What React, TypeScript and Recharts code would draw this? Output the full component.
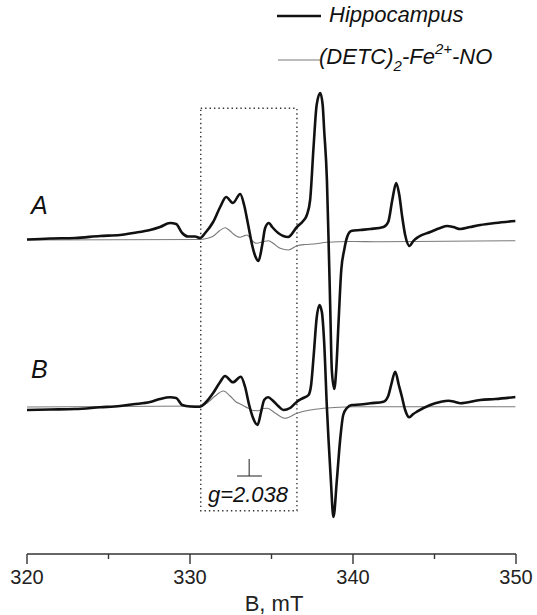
import { LineChart, Line, XAxis, YAxis, ReferenceArea, ReferenceLine } from 'recharts';

// ============================================
// Data (field B in mT, intensity in arbitrary units relative to each baseline)
// ============================================

const A_HIPPO_B = [
  320.0, 321.41, 322.95, 324.48, 325.71, 326.51, 327.55, 328.16, 328.78, 329.15, 329.52, 329.88,
  330.31, 330.62, 330.93, 331.42, 331.85, 332.22, 332.63, 333.08, 333.32, 333.57, 333.81, 334.0,
  334.2, 334.43, 334.61, 334.84, 335.04, 335.41, 336.02, 336.56, 336.94, 337.17, 337.37, 337.58,
  337.77, 337.99, 338.14, 338.23, 338.4, 338.5, 338.6, 338.7, 338.85, 338.97, 339.12, 339.28,
  339.46, 339.64, 339.89, 340.44, 341.06, 341.87, 342.16, 342.41, 342.65, 342.84, 343.02, 343.2,
  343.47, 343.7, 344.0, 344.74, 345.35, 345.78, 346.15, 346.58, 347.19, 347.81, 348.73, 349.96,
];
const A_HIPPO_I = [
  0.5, 1.5, 2, 4, 5, 7, 10, 13, 17, 16, 7, 3.5,
  3.5, 2, 7, 18, 33, 43, 37, 46, 35, 15, -5, -16,
  -21, -5, 12, 17, 13, 7, 3, 13, 19, 25, 40, 93,
  135, 147, 135, 110, 60, 0, -65, -130, -149, -130, -80, -30,
  -10, 3, 9, 10, 11, 13, 18, 40, 57, 45, 23, 5,
  -6, -1, 3, 8, 12, 14, 13, 11, 13, 15, 17, 19,
];

const A_DETC_B = [
  320.0, 330.66, 330.99, 331.44, 331.79, 332.15, 332.46, 332.66, 332.89, 333.08, 333.29, 333.49,
  333.69, 333.87, 334.1, 334.43, 334.81, 335.16, 335.53, 336.04, 336.56, 337.07, 337.58, 338.4,
  339.83, 341.68, 349.96,
];
const A_DETC_I = [
  0, 0.5, 1.5, 4, 9, 12.3, 9, 6, 3.5, 2.7, 4, 5,
  2, -1.5, -3.3, -2, -0.7, -4, -8.3, -10, -5.7, -4.5, -4, -2.3,
  -1.5, -1.7, -0.7,
];

const B_HIPPO_B = [
  320.0, 321.41, 322.95, 324.48, 325.71, 326.51, 327.55, 328.16, 328.78, 329.15, 329.52, 330.01,
  330.62, 330.93, 331.42, 331.85, 332.15, 332.63, 333.12, 333.38, 333.63, 333.87, 334.14, 334.36,
  334.55, 334.79, 335.04, 335.41, 335.73, 336.14, 336.56, 336.94, 337.27, 337.43, 337.59, 337.77,
  337.94, 338.09, 338.23, 338.4, 338.5, 338.64, 338.8, 339.01, 339.21, 339.4, 339.63, 339.93,
  340.44, 341.06, 341.87, 342.16, 342.34, 342.59, 342.81, 343.0, 343.2, 343.45, 343.7, 343.92,
  344.74, 345.35, 345.86, 346.27, 346.58, 347.81, 348.73, 349.96,
];
const B_HIPPO_I = [
  -3, -2.5, -2, -0.3, 1, 2.7, 5, 8, 9.7, 9, 2, 0.5,
  0.3, 4, 14, 25, 31, 24.7, 30.3, 20, 2, -11, -18, -5,
  7, 9.7, 7, 1, -3, -1, 5.3, 9, 12, 22, 52, 89,
  102, 95, 65, -1, -33, -73, -110, -73, -33, -8, -1, 2,
  2.5, 3.7, 5.3, 11, 22, 35.3, 22, 10.3, -3, -10.3, -7, -4.7,
  2, 5, 6.3, 5, 3.7, 7, 8, 10,
];

const B_DETC_B = [
  320.0, 330.66, 331.05, 331.54, 332.05, 332.46, 332.83, 333.08, 333.58, 333.87, 334.2, 334.49,
  334.75, 335.22, 335.84, 336.56, 337.37, 338.19, 340.03, 349.96,
];
const B_DETC_I = [
  0, 1, 4, 11, 16, 11, 5, 3, -1.3, -3.5, -3.7, -1.5,
  -1.3, -6, -11.3, -6.3, -3, -1.3, 0.3, 0.3,
];

// vertical offsets of the two stacked spectra
const OFFSET_A = 314;
const OFFSET_B = 147;

const X_TICKS = [320, 325, 330, 335, 340, 345, 350];
const X_LABELS = [320, 330, 340, 350];

// g-factor marker box and tick
const BOX = { x1: 330.66, x2: 336.56, y1: 43.3, y2: 445.7 };
const G_FIELD = 333.63;

// ============================================
// Helpers
// ============================================

function buildSeries(fields: number[], values: number[], offset: number) {
  return fields.map((b, i) => ({ b, v: values[i] + offset }));
}

const FONT = '"Liberation Sans", Arial, sans-serif';

const AxisTick = (props: any) => {
  const { x, y, payload } = props;
  const major = X_LABELS.includes(payload.value);
  return (
    <g>
      <line x1={x} x2={x} y1={y} y2={y + (major ? 10 : 5)} stroke="#333" strokeWidth={1.4} />
      {major && (
        <text x={x} y={y + 30} textAnchor="middle" fontSize={20} fontFamily={FONT} fill="#222">
          {payload.value}
        </text>
      )}
    </g>
  );
};

// ============================================
// Component
// ============================================

export default function App() {
  const aHippo = buildSeries(A_HIPPO_B, A_HIPPO_I, OFFSET_A);
  const aDetc = buildSeries(A_DETC_B, A_DETC_I, OFFSET_A);
  const bHippo = buildSeries(B_HIPPO_B, B_HIPPO_I, OFFSET_B);
  const bDetc = buildSeries(B_DETC_B, B_DETC_I, OFFSET_B);

  return (
    <div style={{ position: 'absolute', left: 0, top: 0, width: 537, height: 615, background: '#fff' }}>
      <LineChart width={537} height={615} margin={{ top: 74, right: 21, left: 27, bottom: 1 }}>
        <XAxis
          type="number"
          dataKey="b"
          domain={[320, 350]}
          ticks={X_TICKS}
          interval={0}
          tickLine={false}
          tickSize={0}
          tickMargin={0}
          height={60}
          axisLine={{ stroke: '#333', strokeWidth: 1.4 }}
          tick={<AxisTick />}
        />
        <YAxis hide type="number" domain={[0, 480]} />

        <ReferenceArea
          x1={BOX.x1}
          x2={BOX.x2}
          y1={BOX.y1}
          y2={BOX.y2}
          fill="none"
          stroke="#333"
          strokeWidth={1.4}
          strokeDasharray="1.4 3"
        />
        <ReferenceLine segment={[{ x: G_FIELD, y: 95 }, { x: G_FIELD, y: 78 }]} stroke="#333" strokeWidth={1.1} />
        <ReferenceLine segment={[{ x: 332.89, y: 78 }, { x: 334.41, y: 78 }]} stroke="#333" strokeWidth={1.1} />

        <Line data={aDetc} dataKey="v" type="monotone" stroke="#7a7a7a" strokeWidth={1.1} dot={false} isAnimationActive={false} />
        <Line data={bDetc} dataKey="v" type="monotone" stroke="#7a7a7a" strokeWidth={1.1} dot={false} isAnimationActive={false} />
        <Line data={aHippo} dataKey="v" type="monotone" stroke="#111" strokeWidth={2.6} dot={false} isAnimationActive={false} />
        <Line data={bHippo} dataKey="v" type="monotone" stroke="#111" strokeWidth={2.6} dot={false} isAnimationActive={false} />
      </LineChart>

      <svg width={537} height={615} style={{ position: 'absolute', left: 0, top: 0, pointerEvents: 'none' }}>
        <g fontFamily={FONT} fill="#111">
          {/* legend */}
          <line x1={277} x2={321} y1={16} y2={16} stroke="#111" strokeWidth={2.6} />
          <text x={329} y={22} fontSize={22} fontStyle="italic">Hippocampus</text>
          <line x1={278} x2={320} y1={60} y2={60} stroke="#7a7a7a" strokeWidth={1.1} />
          <text x={319} y={64} fontSize={22} fontStyle="italic">
            (DETC)
            <tspan fontSize={15} dy={7}>2</tspan>
            <tspan dy={-7}>-Fe</tspan>
            <tspan fontSize={15} dy={-10}>2+</tspan>
            <tspan dy={10}>-NO</tspan>
          </text>

          {/* trace labels */}
          <text x={31} y={214} fontSize={25} fontStyle="italic">A</text>
          <text x={31} y={378} fontSize={25} fontStyle="italic">B</text>

          {/* g-factor label */}
          <text x={248} y={502} fontSize={22} fontStyle="italic" textAnchor="middle">g=2.038</text>

          {/* axis title */}
          <text x={274} y={611} fontSize={22} textAnchor="middle" fill="#222">B, mT</text>
        </g>
      </svg>
    </div>
  );
}
